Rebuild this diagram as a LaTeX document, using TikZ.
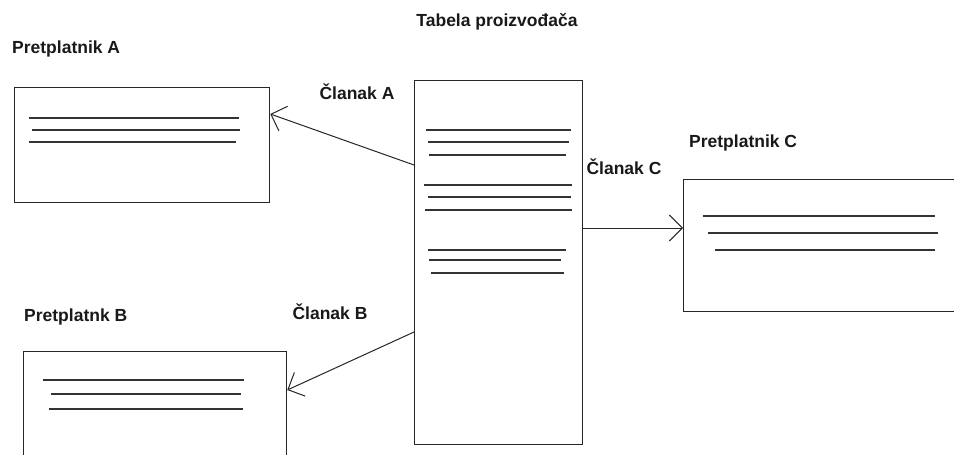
\documentclass[tikz,border=0pt]{standalone}
\usepackage{fontspec}
\setmainfont{Liberation Sans}
\usetikzlibrary{arrows.meta}
\begin{document}
\begin{tikzpicture}[x=1pt,y=-1pt,
  box/.style={draw=black!85, line width=1.3pt, rectangle, anchor=north west, inner sep=0pt},
  rule/.style={draw=black!80, line width=1.5pt},
  lbl/.style={font=\fontsize{17.5}{20}\selectfont\bfseries, text=black!90, inner sep=0pt},
  arr/.style={draw=black!85, line width=1pt, -{Straight Barb[length=13pt, width=26pt, line width=1pt]}}]
\clip (0,0) rectangle (954,455);
\fill[white] (0,0) rectangle (954,455);

% subscriber and table boxes
\node[box, minimum width=255pt, minimum height=115pt] (A) at (14,87) {};
\node[box, minimum width=263pt, minimum height=130pt] (B) at (23,351) {};
\node[box, minimum width=320pt, minimum height=132pt] (C) at (683,179) {};
\node[box, minimum width=168pt, minimum height=364pt] (T) at (414,80) {};

% text rows inside the boxes
\draw[rule] (29,118) -- (239,118) (32,130) -- (240,130) (29,142) -- (236,142);
\draw[rule] (43,380) -- (244,380) (51,394) -- (241,394) (49,409) -- (243,409);
\draw[rule] (703,216) -- (935,216) (708,233) -- (938,233) (715,250) -- (935,250);
\draw[rule] (426,130) -- (571,130) (428,142) -- (569,142) (429,155) -- (566,155);
\draw[rule] (424,185) -- (572,185) (428,197) -- (571,197) (425,210) -- (572,210);
\draw[rule] (428,250) -- (566,250) (429,260) -- (561,260) (431,273) -- (564,273);

% labels
\node[lbl, anchor=center] (title) at (497,22) {Tabela proizvođača};
\node[lbl, anchor=west] (nA) at (12,49) {Pretplatnik A};
\node[lbl, anchor=west] (nB) at (24,317) {Pretplatnk B};
\node[lbl, anchor=west] (nC) at (689,143) {Pretplatnik C};
\node[lbl, anchor=center] (cA) at (357,92) {Članak A};
\node[lbl, anchor=center] (cB) at (330,312) {Članak B};
\node[lbl, anchor=center] (cC) at (624,167) {Članak C};

% article connectors
\coordinate (sA) at (T.west |- 0,165);
\coordinate (eA) at (A.east |- 0,114);
\coordinate (sB) at (T.west |- 0,332);
\coordinate (eB) at (B.east |- 0,390);
\coordinate (sC) at (T.east |- 0,228);
\coordinate (eC) at (C.west |- 0,228);
\draw[arr] (sA) -- (eA);
\draw[arr] (sB) -- (eB);
\draw[arr] (sC) -- (eC);
\end{tikzpicture}
\end{document}
